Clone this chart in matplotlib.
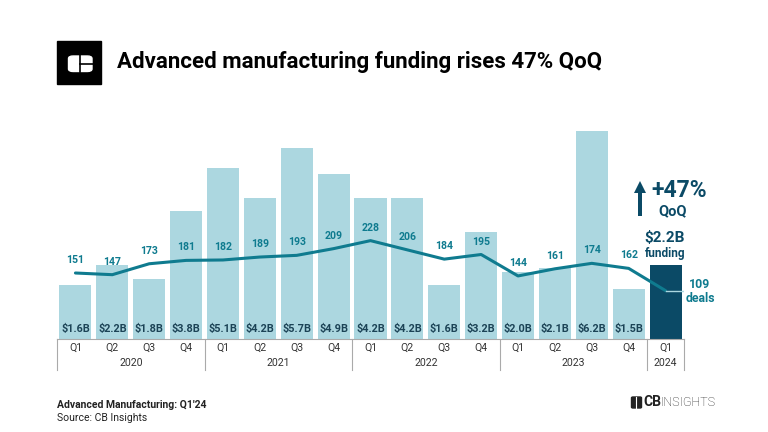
import numpy as np
import matplotlib
matplotlib.use('Agg')
import matplotlib.pyplot as plt
from matplotlib.patches import Rectangle, FancyBboxPatch, FancyArrow

plt.rcParams['font.family'] = ['Roboto', 'DejaVu Sans']

# data
quarters = ['Q1', 'Q2', 'Q3', 'Q4'] * 4 + ['Q1']
years = ['2020', '2021', '2022', '2023', '2024']
year_groups = [4, 4, 4, 4, 1]
funding = [1.6, 2.2, 1.8, 3.8, 5.1, 4.2, 5.7, 4.9, 4.2, 4.2, 1.6, 3.2, 2.0, 2.1, 6.2, 1.5, 2.2]
deals = [151, 147, 173, 181, 182, 189, 193, 209, 228, 206, 184, 195, 144, 161, 174, 162, 109]

light = '#acd7e0'
dark = '#0b4a66'
teal = '#0f7b8f'
label_dark = '#1c4356'

W, H = 768, 432
def px(x, y):
    return x / W, 1 - y / H

fig = plt.figure(figsize=(7.68, 4.32), dpi=100)
ax = fig.add_axes([57 / W, 1 - 339 / H, 627 / W, 219 / H])
x = np.arange(len(funding))
colors = [light] * (len(funding) - 1) + [dark]
ax.bar(x, funding, width=0.87, color=colors)
ax.set_xlim(-0.5, len(funding) - 0.5)
ax.set_ylim(0, 6.52)
ax.axis('off')

for i, v in enumerate(funding[:-1]):
    ax.text(i, 0.3, '$%.1fB' % v, ha='center', va='center', fontsize=7.8,
            fontweight='bold', color=label_dark)

ax2 = ax.twinx()
ax2.set_ylim(-6, 515)
ax2.axis('off')
ax2.plot(x, deals, color=teal, lw=2.2, solid_capstyle='round', zorder=3)
for i, d in enumerate(deals[:-1]):
    ax2.annotate(str(d), (i, d), xytext=(0, 13), textcoords='offset pixels',
                 ha='center', va='center', fontsize=7.6, fontweight='bold', color=teal)
# connector from last point to label
ax2.plot([x[-1], x[-1] + 0.47], [deals[-1], deals[-1]], color=light, lw=1, zorder=3)

# category table below axes
tr = ax.get_xaxis_transform()
line_kw = dict(color='#aaaaaa', lw=0.8, clip_on=False, transform=tr)
ax.plot([-0.5, len(funding) - 0.5], [0, 0], **line_kw)
for i, q in enumerate(quarters):
    ax.text(i, -8.3 / 219, q, ha='center', va='center', fontsize=7.6,
            color='#333333', transform=tr)
start = 0
bounds = [-0.5]
for yr, n in zip(years, year_groups):
    ax.text(start + (n - 1) / 2, -24.3 / 219, yr, ha='center', va='center',
            fontsize=7.6, color='#333333', transform=tr)
    start += n
    bounds.append(start - 0.5)
for b in bounds:
    ax.plot([b, b], [0, -31 / 219], **line_kw)

# title and logo
fig.patches.append(Rectangle(px(57, 84), 44 / W, 43 / H, color='black',
                             transform=fig.transFigure))
fig.patches.append(FancyBboxPatch(px(68.5, 71.5), 23.5 / W, 15.5 / H,
                                  boxstyle='round,pad=0,rounding_size=0.006',
                                  color='white', transform=fig.transFigure))
fig.add_artist(plt.Line2D([80 / W, 80 / W], [px(0, 55)[1], px(0, 72)[1]],
                          color='black', lw=1.2, transform=fig.transFigure))
fig.add_artist(plt.Line2D([80 / W, 93 / W], [px(0, 63.7)[1]] * 2,
                          color='black', lw=1.2, transform=fig.transFigure))
fig.text(*px(117, 62), 'Advanced manufacturing funding rises 47% QoQ',
         fontsize=16, fontweight='bold', va='center', ha='left', color='black')

# annotation for latest quarter
fig.add_artist(FancyArrow(640 / W, px(0, 216)[1], 0, 35 / H, width=4 / W,
                          head_width=12 / W, head_length=12 / H,
                          length_includes_head=True, color=dark, lw=0,
                          transform=fig.transFigure))
fig.text(*px(679, 190), '+47%', fontsize=16.5, fontweight='bold',
         color=dark, ha='center', va='center')
fig.text(*px(673, 211), 'QoQ', fontsize=10.5, fontweight='bold',
         color=dark, ha='center', va='center')
fig.text(*px(665, 238), '$%.1fB' % funding[-1], fontsize=11, fontweight='bold',
         color=dark, ha='center', va='center')
fig.text(*px(665, 254), 'funding', fontsize=8.5, fontweight='bold',
         color=dark, ha='center', va='center')
fig.text(*px(700, 285), str(deals[-1]), fontsize=8.8, fontweight='bold',
         color=teal, ha='center', va='center')
fig.text(*px(700, 298), 'deals', fontsize=8.8, fontweight='bold',
         color=teal, ha='center', va='center')

# footer
fig.text(*px(57, 405), "Advanced Manufacturing: Q1'24", fontsize=7.5,
         fontweight='bold', va='center', color='#222222')
fig.text(*px(57, 418), 'Source: CB Insights', fontsize=7.5,
         va='center', color='#222222')
fig.patches.append(FancyBboxPatch(px(631.5, 408), 10 / W, 11 / H,
                                  boxstyle='round,pad=0,rounding_size=0.002',
                                  color='#222222', transform=fig.transFigure))
fig.add_artist(plt.Line2D([636 / W] * 2, [px(0, 397)[1], px(0, 408)[1]],
                          color='white', lw=0.8, transform=fig.transFigure))
fig.text(*px(643, 402.5), 'CB', fontsize=10, fontweight='bold', va='center',
         color='#222222')
fig.text(*px(661, 402.5), 'INSIGHTS', fontsize=9, fontweight='light',
         va='center', color='#222222')

fig.savefig('out.png', dpi=100, facecolor='white')
